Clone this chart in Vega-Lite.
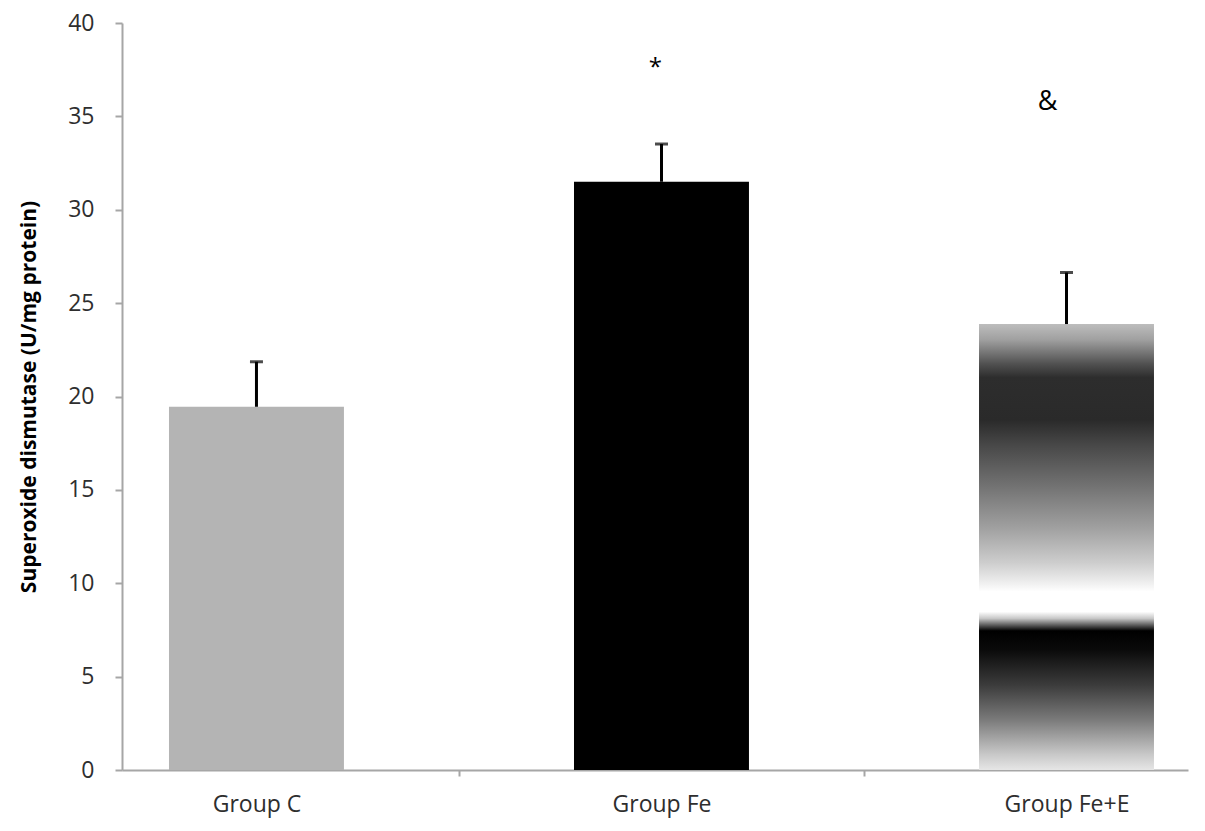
{
  "$schema": "https://vega.github.io/schema/vega-lite/v6.json",
  "autosize": {"type": "none"},
  "padding": {"left": 122, "top": 23, "right": 17, "bottom": 61},
  "width": 1066,
  "height": 747,
  "background": "#ffffff",
  "config": {"view": {"stroke": null}, "font": "Open Sans"},
  "data": {
    "values": [
      {"group": "Group C", "mean": 19.45, "upper": 21.86, "sig": "", "sigY": 0},
      {"group": "Group Fe", "mean": 31.5, "upper": 33.52, "sig": "*", "sigY": 37.96},
      {"group": "Group Fe+E", "mean": 23.88, "upper": 26.64, "sig": "&", "sigY": 35.79}
    ]
  },
  "encoding": {
    "x": {
      "field": "group",
      "type": "nominal",
      "sort": ["Group C", "Group Fe", "Group Fe+E"],
      "scale": {"paddingInner": 0.568, "paddingOuter": 0.1, "align": 0.58},
      "axis": {
        "title": null,
        "labelAngle": 0,
        "labelFont": "Open Sans",
        "labelFontSize": 23,
        "labelColor": "#2e2e2e",
        "labelPadding": 17,
        "labelOffset": 202,
        "domainColor": "#a6a6a6",
        "domainWidth": 2,
        "tickColor": "#a6a6a6",
        "tickWidth": 2,
        "tickSize": 6,
        "tickOffset": -202,
        "tickOpacity": {"condition": {"test": "datum.value === 'Group C'", "value": 0}, "value": 1}
      }
    }
  },
  "layer": [
    {
      "transform": [{"filter": "datum.group !== 'Group Fe+E'"}],
      "mark": {"type": "bar"},
      "encoding": {
        "y": {
          "field": "mean",
          "type": "quantitative",
          "scale": {"domain": [0, 40], "nice": false},
          "axis": {
            "title": "Superoxide dismutase (U/mg protein)",
            "titleFont": "Open Sans",
            "titleFontSize": 21,
            "titleFontWeight": "bold",
            "titleColor": "#000000",
            "titlePadding": 28,
            "values": [0, 5, 10, 15, 20, 25, 30, 35, 40],
            "grid": false,
            "labelFont": "Open Sans",
            "labelFontSize": 23,
            "labelColor": "#2e2e2e",
            "labelPadding": 21,
            "domainColor": "#a6a6a6",
            "domainWidth": 2,
            "tickColor": "#a6a6a6",
            "tickWidth": 2,
            "tickSize": 7
          }
        },
        "color": {
          "field": "group",
          "type": "nominal",
          "scale": {"domain": ["Group C", "Group Fe"], "range": ["#b4b4b4", "#000000"]},
          "legend": null
        }
      }
    },
    {
      "transform": [{"filter": "datum.group === 'Group Fe+E'"}],
      "mark": {
        "type": "bar",
        "color": {
          "gradient": "linear",
          "x1": 0, "y1": 0, "x2": 0, "y2": 1,
          "stops": [
            {"offset": 0, "color": "#bdbdbd"},
            {"offset": 0.035, "color": "#a0a0a0"},
            {"offset": 0.09, "color": "#505050"},
            {"offset": 0.12, "color": "#2d2d2d"},
            {"offset": 0.215, "color": "#2a2a2a"},
            {"offset": 0.27, "color": "#474747"},
            {"offset": 0.363, "color": "#727272"},
            {"offset": 0.457, "color": "#a0a0a0"},
            {"offset": 0.535, "color": "#cdcdcd"},
            {"offset": 0.582, "color": "#f0f0f0"},
            {"offset": 0.6, "color": "#ffffff"},
            {"offset": 0.645, "color": "#ffffff"},
            {"offset": 0.66, "color": "#c8c8c8"},
            {"offset": 0.688, "color": "#000000"},
            {"offset": 0.73, "color": "#0a0a0a"},
            {"offset": 0.81, "color": "#3c3c3c"},
            {"offset": 0.887, "color": "#7a7a7a"},
            {"offset": 0.965, "color": "#c8c8c8"},
            {"offset": 1, "color": "#e6e6e6"}
          ]
        }
      },
      "encoding": {
        "y": {"field": "mean", "type": "quantitative"}
      }
    },
    {
      "mark": {"type": "rule", "color": "#000000", "strokeWidth": 3},
      "encoding": {
        "y": {"field": "mean", "type": "quantitative"},
        "y2": {"field": "upper"}
      }
    },
    {
      "mark": {"type": "tick", "color": "#000000", "thickness": 3, "size": 13, "orient": "horizontal"},
      "encoding": {
        "y": {"field": "upper", "type": "quantitative"}
      }
    },
    {
      "transform": [{"filter": "datum.sig === '*'"}],
      "mark": {"type": "text", "font": "Open Sans", "fontSize": 24, "color": "#000000", "baseline": "middle", "dx": -6, "dy": 7},
      "encoding": {
        "y": {"field": "sigY", "type": "quantitative"},
        "text": {"field": "sig"}
      }
    },
    {
      "transform": [{"filter": "datum.sig === '&'"}],
      "mark": {"type": "text", "font": "Open Sans", "fontSize": 27, "color": "#000000", "baseline": "middle", "dx": -19},
      "encoding": {
        "y": {"field": "sigY", "type": "quantitative"},
        "text": {"field": "sig"}
      }
    }
  ]
}
